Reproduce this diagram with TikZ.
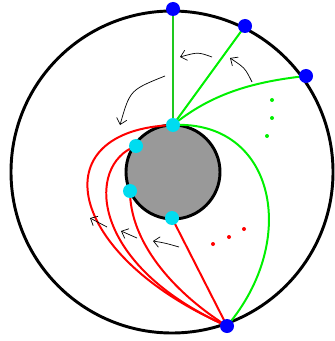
\documentclass[tikz,border=0pt]{standalone}
\usetikzlibrary{arrows.meta}
\definecolor{dotcyan}{RGB}{0,220,240}
\definecolor{lgreen}{RGB}{0,240,0}
\definecolor{dgreen}{RGB}{30,200,30}
\begin{document}
\begin{tikzpicture}[x=0.03cm, y=-0.03cm, >={Straight Barb[length=5pt,width=9pt]},
  outer/.style={circle, fill=blue, inner sep=0pt, minimum size=0.42cm},
  inner/.style={circle, fill=dotcyan, inner sep=0pt, minimum size=0.42cm},
  gline/.style={lgreen, line width=1.7pt},
  rline/.style={red, line width=1.7pt},
  turn/.style={->, black, line width=0.6pt}]
\useasboundingbox (0,0) rectangle (334,341);
\draw[line width=2.5pt] (172,172) circle (161);
\draw[line width=2.5pt, fill=black!40] (173,172) circle (47);
\coordinate (t) at (173,125);
\coordinate (ul) at (136,146);
\coordinate (ll) at (130,191);
\coordinate (b) at (172,218);
\coordinate (p1) at (173,9);
\coordinate (p2) at (245,26);
\coordinate (p3) at (306,76);
\coordinate (q) at (227,326);
\draw[gline, dgreen] (t) -- (p1);
\draw[gline] (t) -- (p2);
\draw[gline] (t) .. controls (210,95) and (250,82) .. (p3);
\draw[gline] (t) .. controls (275,120) and (300,240) .. (q);
\draw[rline] (t) .. controls (40,130) and (65,255) .. (q);
\draw[rline] (ul) .. controls (85,165) and (90,265) .. (q);
\draw[rline] (ll) .. controls (130,240) and (170,290) .. (q);
\draw[rline] (b) -- (q);
\node[outer] at (p1) {};
\node[outer] at (p2) {};
\node[outer] at (p3) {};
\node[outer] at (q) {};
\node[inner] at (t) {};
\node[inner] at (ul) {};
\node[inner] at (ll) {};
\node[inner] at (b) {};
% dots
\foreach \x/\y in {272/100, 272/118, 267/136}
  \fill[lgreen] (\x,\y) circle (2);
\foreach \x/\y in {213/244, 229/237, 244/229}
  \fill[red] (\x,\y) circle (2);
% turning arrows
\draw[turn] (212,57) .. controls (198,52) .. (180,57);
\draw[turn] (252,82) .. controls (245,68) .. (230,58);
\draw[turn] (165,76) .. controls (130,90) .. (120,125);
\draw[turn] (107,227) -- (90,218);
\draw[turn] (137,238) -- (121,231);
\draw[turn] (179,247) .. controls (165,243) .. (153,241);
\end{tikzpicture}
\end{document}
